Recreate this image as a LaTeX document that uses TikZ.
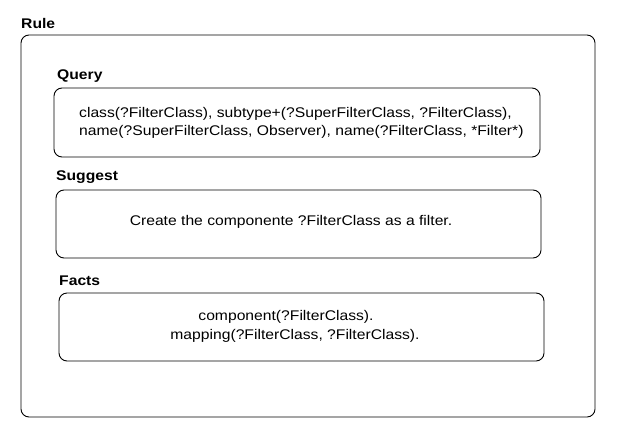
\documentclass[tikz,border=0pt]{standalone}
\usepackage{fontspec}
\setmainfont{Liberation Sans}[FakeStretch=1.12]
\begin{document}
\begin{tikzpicture}[x=1pt,y=-1pt,
  box/.style={draw,line width=0.9pt,rounded corners=8pt},
  lbl/.style={anchor=base west,inner sep=0pt,font=\fontsize{14}{16}\selectfont\bfseries},
  txt/.style={anchor=base,inner sep=0pt,font=\fontsize{14}{16}\selectfont}]
\useasboundingbox (0,0) rectangle (620,442);
\node[lbl] (rulel) at (21,28) {Rule};
\draw[box] (21,35) rectangle (595,417);
\node[lbl] (queryl) at (57,79) {Query};
\draw[box] (54,88) rectangle (540,157);
\node[txt,anchor=base west] (q1) at (79,117) {class(?FilterClass), subtype+(?SuperFilterClass, ?FilterClass),};
\node[txt,anchor=base west] (q2) at (79,135) {name(?SuperFilterClass, Observer), name(?FilterClass, *Filter*)};
\node[lbl] (suggl) at (56,180) {Suggest};
\draw[box] (56,190) rectangle (541,258);
\node[txt] (s1) at (291,225) {Create the componente ?FilterClass as a filter.};
\node[lbl] (factl) at (59,285) {Facts};
\draw[box] (59,293) rectangle (544,361);
\node[txt] (f1) at (286,320) {component(?FilterClass).};
\node[txt] (f2) at (295,339) {mapping(?FilterClass, ?FilterClass).};
\end{tikzpicture}
\end{document}
